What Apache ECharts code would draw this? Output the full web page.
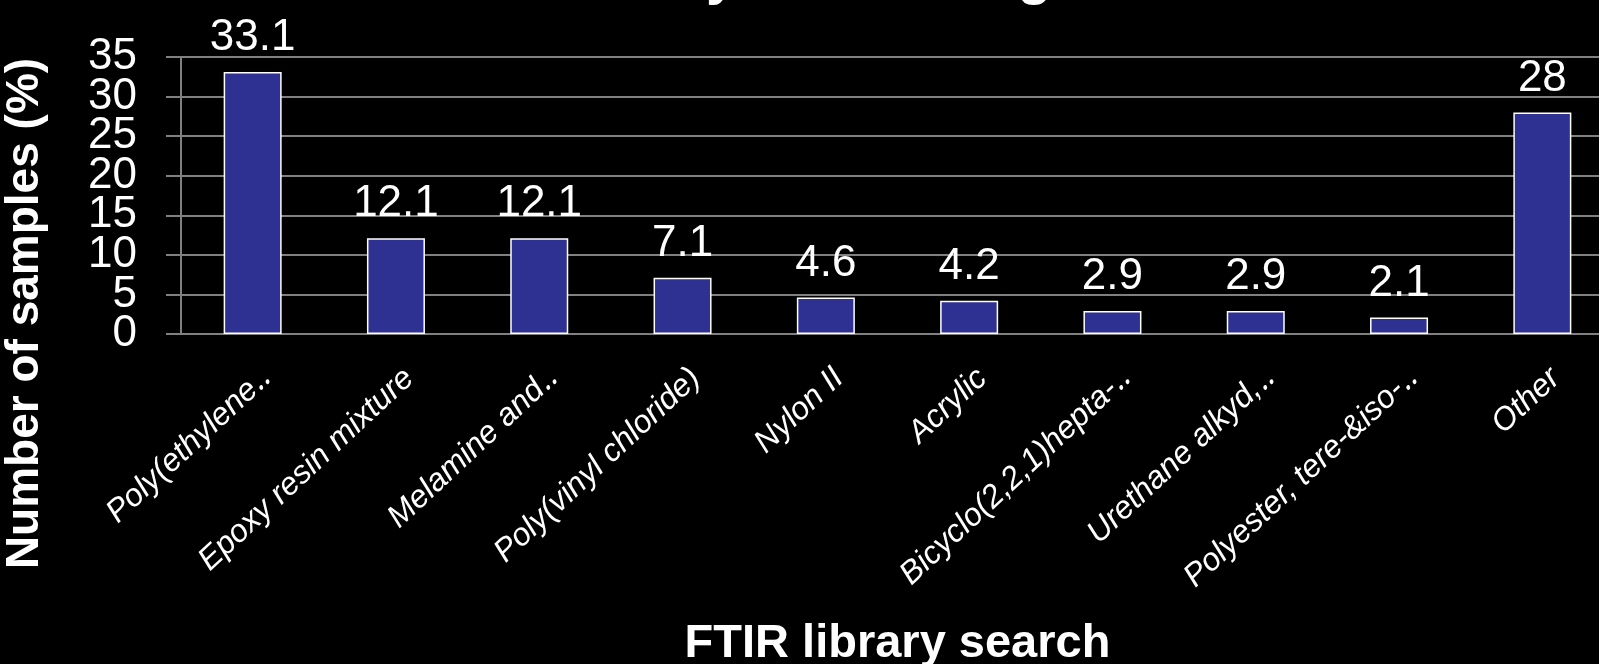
<!DOCTYPE html>
<html>
<head>
<meta charset="utf-8">
<script src="https://cdn.jsdelivr.net/npm/echarts@6/dist/echarts.min.js"></script>
<style>
  html, body { margin: 0; padding: 0; background: #000; }
  #chart { width: 1599px; height: 664px; }
</style>
</head>
<body>
<div id="chart"></div>
<script>
// Polymer types identified by FTIR library search
const categories = [
  'Poly(ethylene‥',
  'Epoxy resin mixture',
  'Melamine and‥',
  'Poly(vinyl chloride)',
  'Nylon II',
  'Acrylic',
  'Bicyclo(2,2,1)hepta-‥',
  'Urethane alkyd,‥',
  'Polyester, tere-&iso-‥',
  'Other'
];
// Share of samples, percent
const samplePercent = [33.1, 12.1, 12.1, 7.1, 4.6, 4.2, 2.9, 2.9, 2.1, 28];

const yMin = 0;
const yMax = 35;
const yStep = 5;
// Tick labels, split over two stacked axes so the tightly packed labels all stay visible
const yTicksEven = [0, 10, 20, 30];
const yTicksOdd = [5, 15, 25, 35];

const FONT = '"Liberation Sans", Arial, sans-serif';

const yLabelStyle = {
  margin: 44,
  showMinLabel: true,
  showMaxLabel: true,
  hideOverlap: false,
  color: '#ffffff',
  fontFamily: FONT,
  fontSize: 44
};

const chart = echarts.init(document.getElementById('chart'));
chart.setOption({
  backgroundColor: '#000000',
  animation: false,
  title: {
    text: 'FTIR library search of glitter',
    left: 'center',
    top: -55,
    textStyle: {
      color: '#ffffff',
      fontFamily: FONT,
      fontWeight: 'bold',
      fontSize: 56,
      lineHeight: 56
    }
  },
  grid: {
    left: 181,
    right: -15,
    top: 57,
    bottom: 330,
    containLabel: false,
    outerBoundsMode: 'none'
  },
  xAxis: {
    type: 'category',
    data: categories,
    name: 'FTIR library search',
    nameLocation: 'middle',
    nameGap: 287,
    nameMoveOverlap: false,
    nameTextStyle: {
      color: '#ffffff',
      fontFamily: FONT,
      fontWeight: 'bold',
      fontSize: 47
    },
    axisLine: { show: true, lineStyle: { color: '#808080', width: 2 } },
    axisTick: { show: false },
    axisLabel: {
      interval: 0,
      rotate: 43,
      margin: 52,
      padding: [0, -18, 0, 0],
      hideOverlap: false,
      color: '#ffffff',
      fontFamily: FONT,
      fontStyle: 'italic',
      fontSize: 32
    }
  },
  yAxis: [{
    type: 'value',
    min: yMin,
    max: yMax,
    interval: yStep,
    position: 'left',
    name: 'Number of samples (%)',
    nameLocation: 'middle',
    nameGap: 133,
    nameMoveOverlap: false,
    nameTextStyle: {
      color: '#ffffff',
      fontFamily: FONT,
      fontWeight: 'bold',
      fontSize: 46,
      // shifts the rotated title down along the axis
      padding: [0, 236, 0, 0]
    },
    axisLine: { show: true, lineStyle: { color: '#808080', width: 2 } },
    axisTick: { show: true, inside: false, length: 15, lineStyle: { color: '#808080', width: 2 } },
    axisLabel: Object.assign({ customValues: yTicksEven }, yLabelStyle),
    splitLine: { show: true, lineStyle: { color: '#808080', width: 2 } }
  }, {
    type: 'value',
    min: yMin,
    max: yMax,
    interval: yStep,
    position: 'left',
    offset: 0,
    axisLine: { show: false },
    axisTick: { show: false },
    axisLabel: Object.assign({ customValues: yTicksOdd }, yLabelStyle),
    splitLine: { show: false }
  }],
  series: [{
    type: 'bar',
    yAxisIndex: 0,
    data: samplePercent,
    barWidth: 58,
    itemStyle: {
      color: '#2E3192',
      borderColor: '#ffffff',
      borderWidth: 1.5
    },
    label: {
      show: true,
      position: 'top',
      distance: 12,
      color: '#ffffff',
      fontFamily: FONT,
      fontSize: 44
    }
  }]
});
</script>
</body>
</html>
